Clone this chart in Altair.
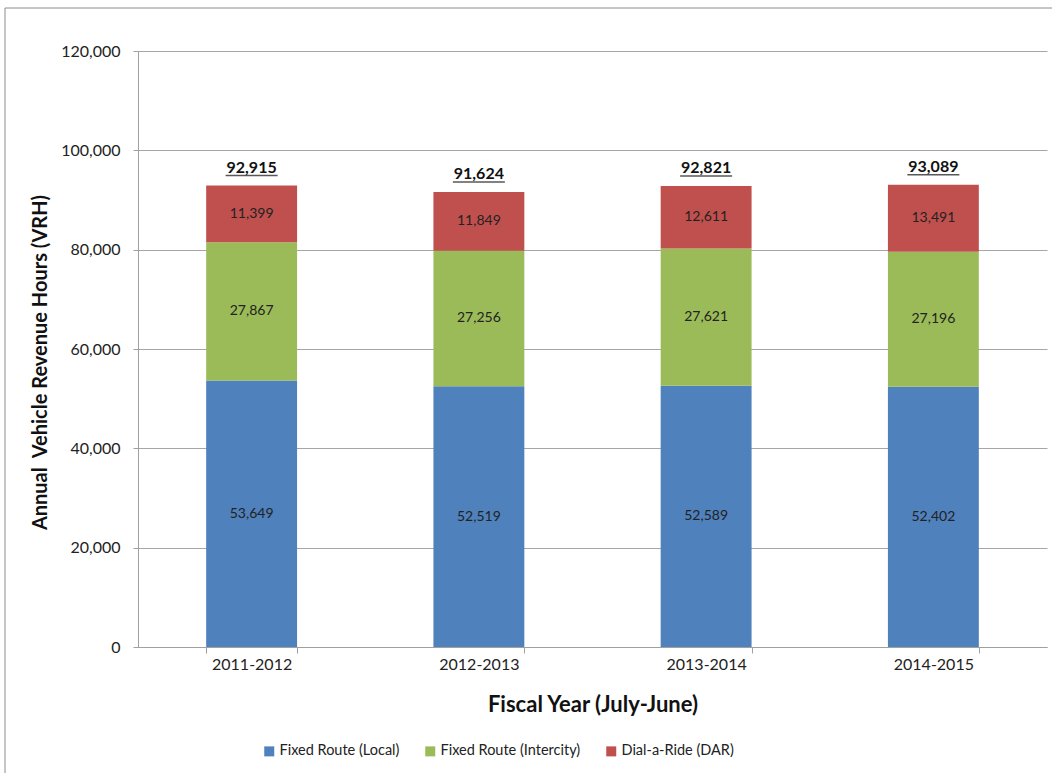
import altair as alt
import pandas as pd

years = ["2011-2012", "2012-2013", "2013-2014", "2014-2015"]
series = ["Fixed Route (Local)", "Fixed Route (Intercity)", "Dial-a-Ride (DAR)"]
local = [53649, 52519, 52589, 52402]
intercity = [27867, 27256, 27621, 27196]
dar = [11399, 11849, 12611, 13491]
totals = [92915, 91624, 92821, 93089]
colors = ["#4F81BD", "#9BBB59", "#C0504D"]

rows = []
for i, y in enumerate(years):
    for k, (s, vals) in enumerate(zip(series, [local, intercity, dar])):
        rows.append({"year": y, "series": s, "value": vals[i], "order": k})
df = pd.DataFrame(rows)
tot_df = pd.DataFrame({"year": years, "total": totals})

FONT = "Lato"
W, H = 909, 596
LEFT, TOP = 138, 51

xscale = alt.Scale(domain=years, paddingInner=0.6, paddingOuter=0.3)
yscale = alt.Scale(domain=[0, 120000], nice=False)

base = alt.Chart(df)

bars = base.transform_stack(
    stack="value", groupby=["year"], as_=["y0", "y1"],
    sort=[alt.SortField("order", order="ascending")]
).mark_bar().encode(
    x=alt.X("year:N", scale=xscale, sort=years,
            axis=alt.Axis(title="Fiscal Year (July-June)", labelAngle=0, tickBand="extent",
                          labelFontSize=16, labelFont=FONT, labelColor="#222",
                          tickSize=6, tickColor="#a0a0a0", domainColor="#a0a0a0",
                          labelPadding=3, titleFont=FONT, titleFontSize=22,
                          titleFontWeight="bold", titleColor="#111", titlePadding=22)),
    y=alt.Y("y0:Q", scale=yscale,
            axis=alt.Axis(title="Annual\u00a0 Vehicle Revenue Hours (VRH)",
                          values=[0, 20000, 40000, 60000, 80000, 100000, 120000],
                          format=",d", labelFontSize=16, labelFont=FONT, labelColor="#222",
                          tickSize=5, tickColor="#a0a0a0", domainColor="#a0a0a0",
                          gridColor="#a6a6a6", labelPadding=13,
                          titleFont=FONT, titleFontSize=20, titleFontWeight="bold",
                          titleColor="#111", titleX=-88, titleY=311,
                          titleBaseline="bottom", titleAngle=-90, titleAlign="center")),
    y2="y1:Q",
    color=alt.Color("series:N", scale=alt.Scale(domain=series, range=colors),
                    legend=alt.Legend(title=None, orient="none", direction="horizontal",
                                      legendX=124, legendY=693, symbolType="square",
                                      symbolSize=100, symbolStrokeWidth=0,
                                      labelFont=FONT, labelFontSize=14.5, labelColor="#222",
                                      columnPadding=23, labelOffset=3, labelLimit=300)),
)

seg_labels = base.transform_stack(
    stack="value", groupby=["year"], as_=["y0", "y1"],
    sort=[alt.SortField("order", order="ascending")]
).transform_calculate(
    mid="(datum.y0 + datum.y1) / 2"
).mark_text(font=FONT, fontSize=14, color="#222", baseline="middle").encode(
    x=alt.X("year:N", scale=xscale, sort=years),
    y=alt.Y("mid:Q", scale=yscale),
    text=alt.Text("value:Q", format=",d"),
)

tot_base = alt.Chart(tot_df)
tot_labels = tot_base.mark_text(font=FONT, fontSize=16, fontWeight="bold", color="#111",
                                baseline="middle", dy=-18).encode(
    x=alt.X("year:N", scale=xscale, sort=years),
    y=alt.Y("total:Q", scale=yscale),
    text=alt.Text("total:Q", format=",d"),
)
underline = tot_base.mark_tick(color="#111", thickness=1.5, size=52, yOffset=-10).encode(
    x=alt.X("year:N", scale=xscale, sort=years),
    y=alt.Y("total:Q", scale=yscale),
)

frame = alt.Chart(pd.DataFrame({"a": [0]})).mark_rect(
    fill=None, stroke="#8c8c8c", strokeWidth=1
).encode(
    x=alt.value(5 - LEFT), x2=alt.value(1100 - LEFT),
    y=alt.value(8 - TOP), y2=alt.value(800 - TOP),
)

chart = alt.layer(frame, bars, seg_labels, tot_labels, underline).properties(
    width=W, height=H,
    autosize=alt.AutoSizeParams(type="none"),
    padding={"left": LEFT, "top": TOP, "right": 1052 - LEFT - W, "bottom": 773 - TOP - H},
    background="white",
).configure_view(stroke=None).configure_axisY(domain=True)

chart.save("out.html", embed_options={"renderer": "svg", "actions": False})
